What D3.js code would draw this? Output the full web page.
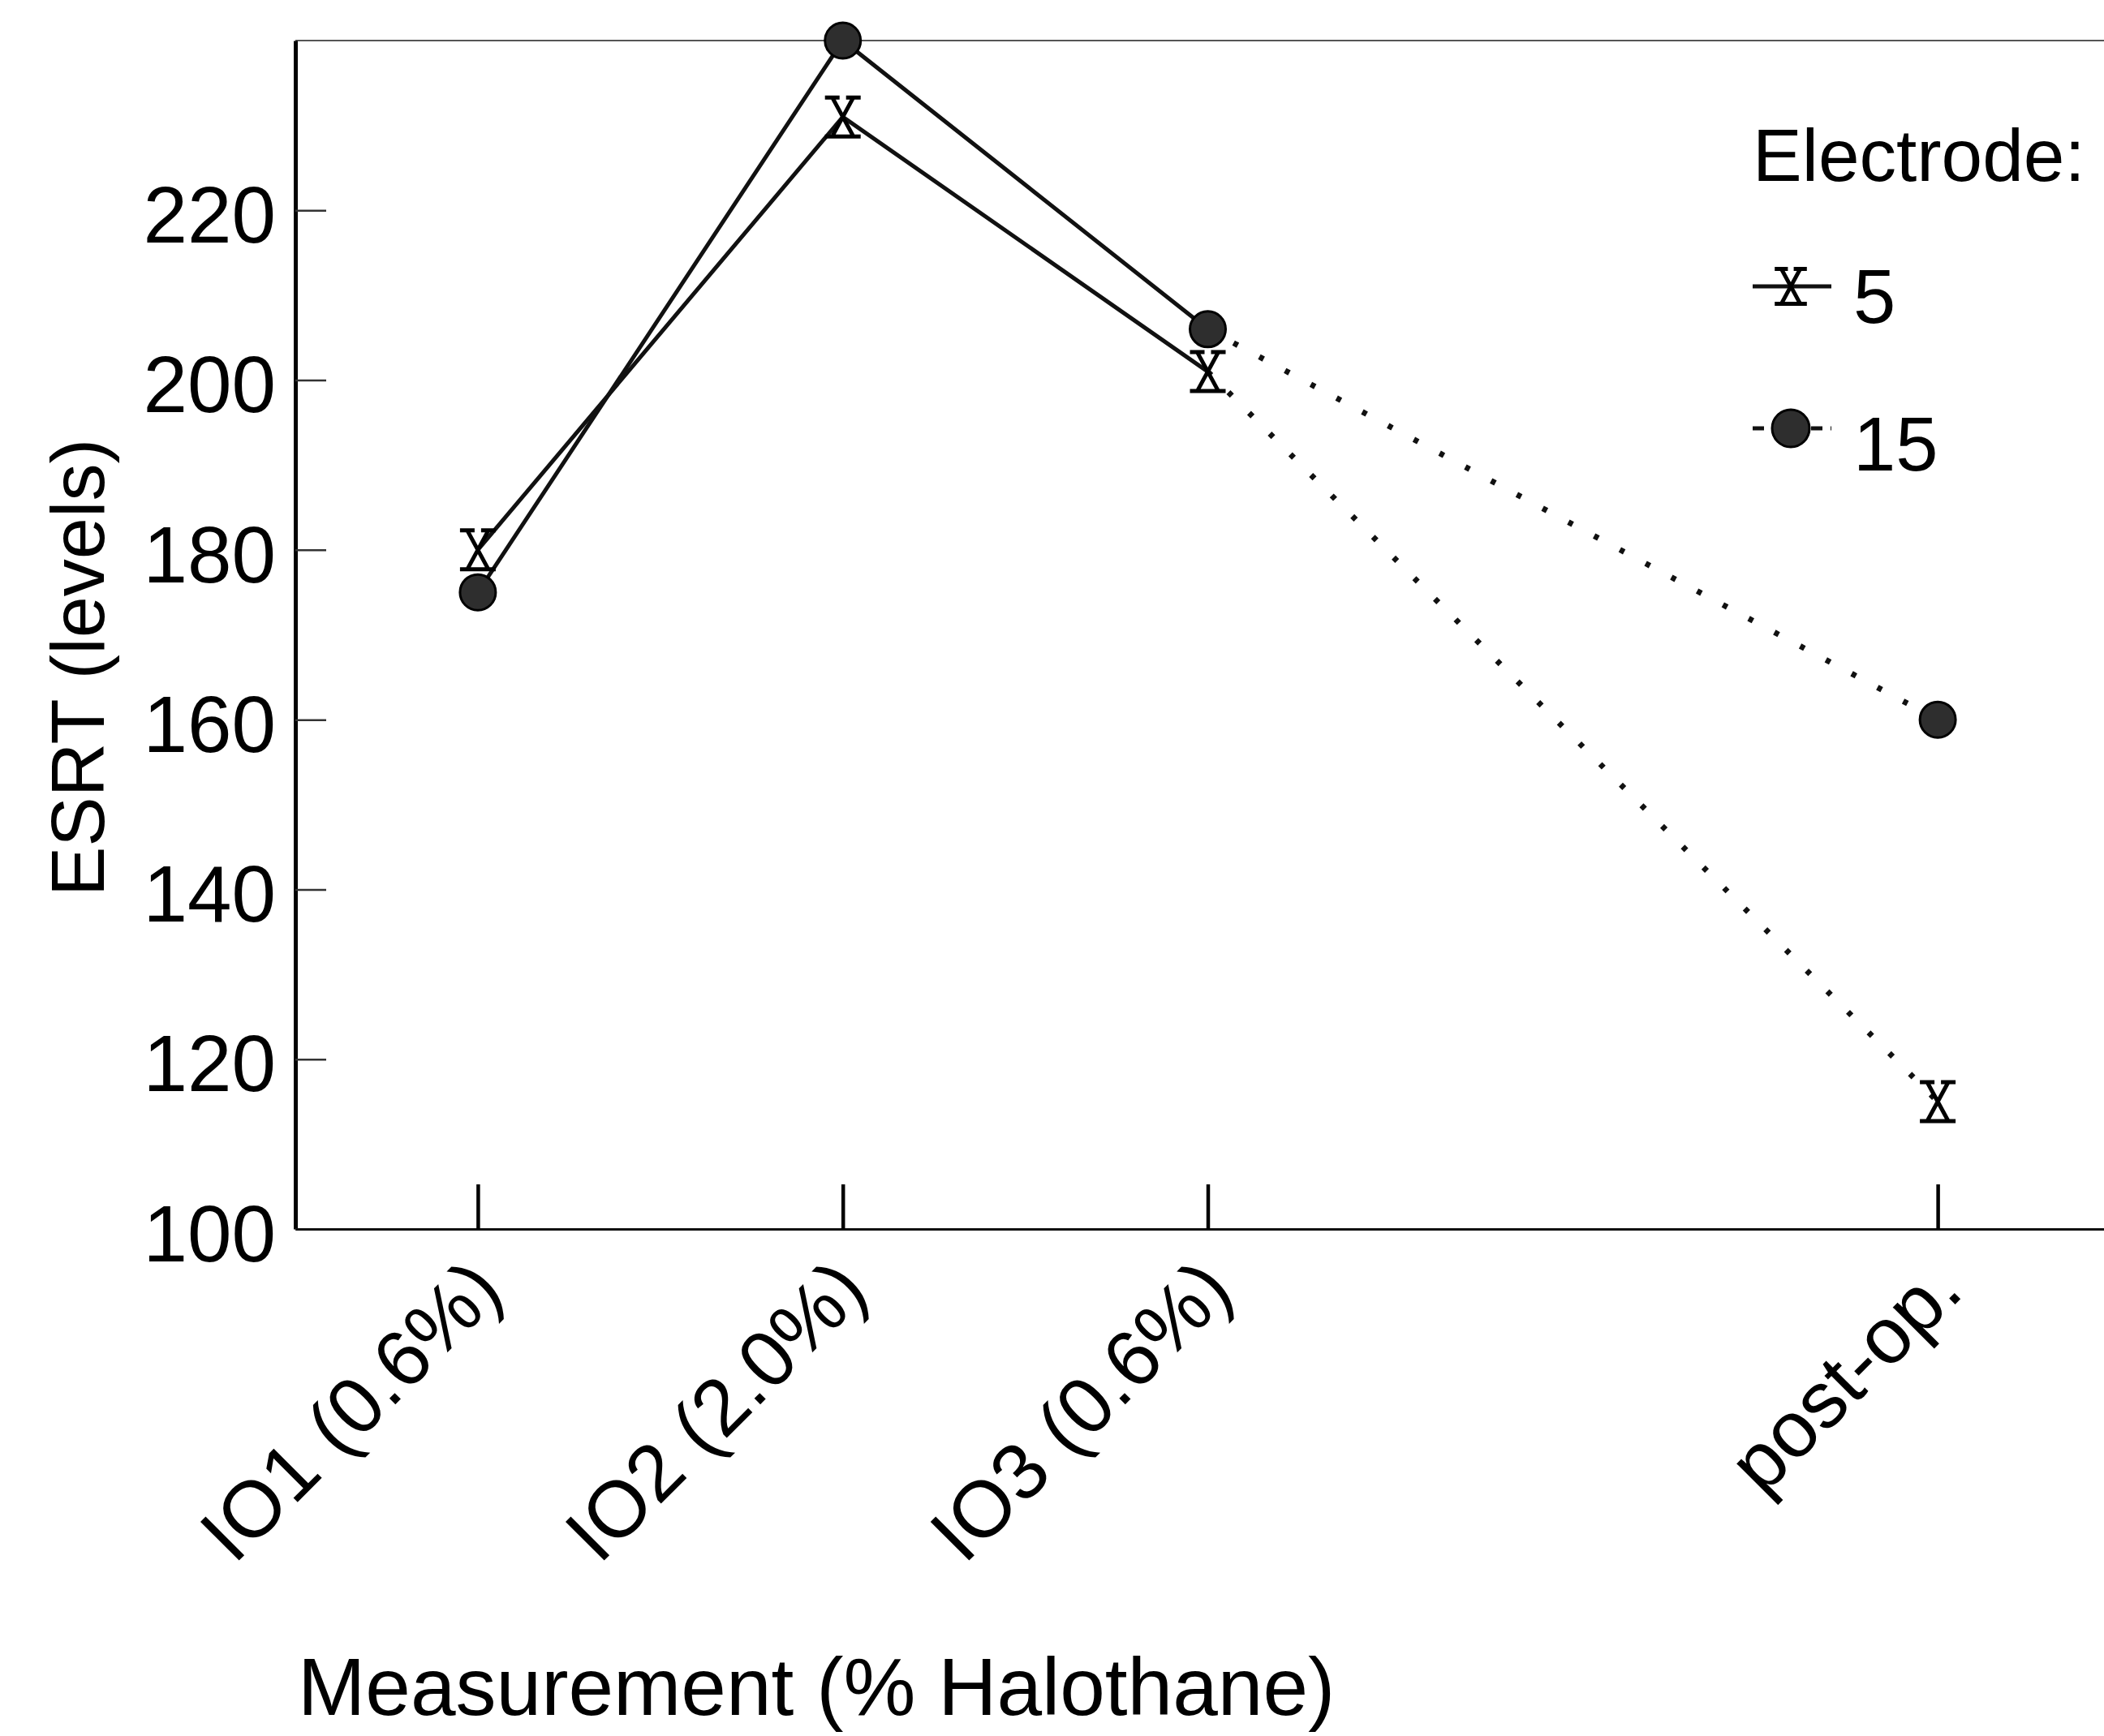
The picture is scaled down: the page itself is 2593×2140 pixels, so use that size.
<!DOCTYPE html>
<html>
<head>
<meta charset="utf-8">
<script src="https://cdn.jsdelivr.net/npm/d3@7"></script>
<style>
  body { margin: 0; background: #fff; }
  svg { display: block; font-family: "Liberation Sans", Arial, Helvetica, sans-serif; }
</style>
</head>
<body>
<div id="chart"></div>
<script>
// values
const categories = ["IO1 (0.6%)", "IO2 (2.0%)", "IO3 (0.6%)", "post-op."]
const positions = [1, 2, 3, 5]
const electrode5 = [180, 231, 201, 115]
const electrode15 = [175, 240, 206, 160]
const yTicks = [100, 120, 140, 160, 180, 200, 220]
const seriesNames = ["5", "15"]

const W = 2593, H = 2140
const frame = {left: 364, right: 2613, top: 50, bottom: 1515}

class Chart {
  constructor(el) {
    this.el = el
    this.setScale()
  }

  setScale() {
    this.x = d3.scaleLinear().domain([0.5, 5.5]).range([frame.left, frame.right])
    this.y = d3.scaleLinear().domain([100, 240]).range([frame.bottom, frame.top])
  }

  addSVG() {
    this.svg = d3.select(this.el).append("svg")
      .attr("width", W).attr("height", H)
      .attr("viewBox", `0 0 ${W} ${H}`)
  }

  // serif-ish "X" used as the electrode 5 symbol
  xMarker(s) {
    const w = 13 * s, h = 24 * s, f = 9 * s
    return `M${-w},${-h}L${w},${h}M${w},${-h}L${-w},${h}` +
      `M${-w - f},${-h}L${-w + f},${-h}M${w - f},${-h}L${w + f},${-h}` +
      `M${-w - f},${h}L${w + f},${h}`
  }

  addAxes() {
    const x = this.x, y = this.y

    // top frame line
    this.svg.append("line")
      .attr("x1", x(0.5)).attr("x2", W)
      .attr("y1", y(240)).attr("y2", y(240))
      .attr("stroke", "#555").attr("stroke-width", 2)

    const yAxis = this.svg.append("g")
      .attr("transform", `translate(${x(0.5)},0)`)
      .call(d3.axisLeft(y).tickValues(yTicks).tickSizeInner(-38).tickSizeOuter(0).tickPadding(24))
    yAxis.select(".domain").attr("stroke", "#000").attr("stroke-width", 5)
    yAxis.selectAll(".tick line").attr("stroke", "#333").attr("stroke-width", 2.5)
    yAxis.selectAll(".tick text")
      .attr("font-size", 98).attr("font-family", null).attr("fill", "#000").attr("dy", "0.4em")

    const xAxis = this.svg.append("g")
      .attr("transform", `translate(0,${y(100)})`)
      .call(d3.axisBottom(x).tickValues(positions).tickSizeInner(-55).tickSizeOuter(0)
        .tickFormat((d, i) => categories[i]))
    xAxis.select(".domain").attr("stroke", "#111").attr("stroke-width", 3)
    xAxis.selectAll(".tick line").attr("stroke", "#000").attr("stroke-width", 4.5)
    xAxis.selectAll(".tick text")
      .attr("font-size", 98).attr("font-family", null).attr("fill", "#000")
      .attr("x", 0).attr("y", 0).attr("dy", 0)
      .attr("text-anchor", "end")
      .attr("transform", "translate(34,80) rotate(-45)")

    this.svg.append("text")
      .attr("x", 367).attr("y", 2114)
      .attr("font-size", 100)
      .text("Measurement (% Halothane)")

    this.svg.append("text")
      .attr("transform", `translate(128,823) rotate(-90)`)
      .attr("text-anchor", "middle")
      .attr("font-size", 92)
      .text("ESRT (levels)")
  }

  addLines() {
    const x = this.x, y = this.y
    const line = d3.line().x(d => x(d[0])).y(d => y(d[1]))
    const all = [electrode5, electrode15]

    all.forEach(vals => {
      const pts = positions.map((p, i) => [p, vals[i]])
      this.svg.append("path")
        .attr("d", line(pts.slice(0, 3)))
        .attr("fill", "none").attr("stroke", "#111").attr("stroke-width", 5)
      this.svg.append("path")
        .attr("d", line(pts.slice(2)))
        .attr("fill", "none").attr("stroke", "#111").attr("stroke-width", 7)
        .attr("stroke-dasharray", "6 30")
    })

    this.svg.append("g").selectAll("path")
      .data(positions.map((p, i) => [p, electrode5[i]]))
      .enter().append("path")
      .attr("transform", d => `translate(${x(d[0])},${y(d[1])})`)
      .attr("d", this.xMarker(1))
      .attr("fill", "none").attr("stroke", "#000").attr("stroke-width", 5)

    this.svg.append("g").selectAll("circle")
      .data(positions.map((p, i) => [p, electrode15[i]]))
      .enter().append("circle")
      .attr("cx", d => x(d[0])).attr("cy", d => y(d[1]))
      .attr("r", 22)
      .attr("fill", "#2e2e2e").attr("stroke", "#000").attr("stroke-width", 3)
  }

  addLegend() {
    const g = this.svg.append("g")
    g.append("text").attr("x", 2160).attr("y", 223).attr("font-size", 91).text("Electrode:")

    const rows = [{y: 353, base: 398}, {y: 528, base: 580}]
    rows.forEach((r, i) => {
      g.append("line").attr("x1", 2160).attr("x2", 2257).attr("y1", r.y).attr("y2", r.y)
        .attr("stroke", "#111").attr("stroke-width", 5)
        .attr("stroke-dasharray", i === 0 ? null : "14 10")
      if (i === 0) {
        g.append("path").attr("transform", `translate(2207,${r.y})`)
          .attr("d", this.xMarker(0.9))
          .attr("fill", "none").attr("stroke", "#000").attr("stroke-width", 5)
      } else {
        g.append("circle").attr("cx", 2207).attr("cy", r.y).attr("r", 23)
          .attr("fill", "#2e2e2e").attr("stroke", "#000").attr("stroke-width", 3)
      }
      g.append("text").attr("x", 2284).attr("y", r.base).attr("font-size", 94).text(seriesNames[i])
    })
  }

  enter() {
    this.addSVG()
    this.addAxes()
    this.addLines()
    this.addLegend()
  }
}

new Chart(document.getElementById("chart")).enter()
</script>
</body>
</html>
